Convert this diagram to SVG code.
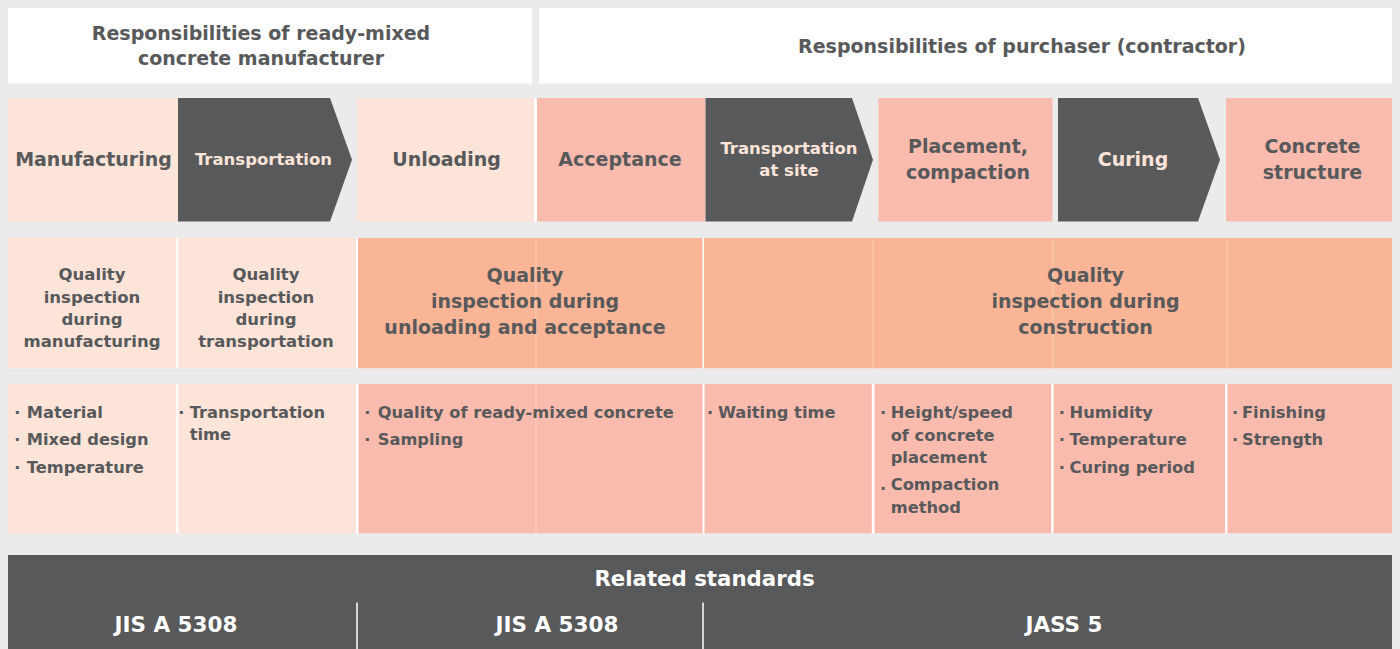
<svg xmlns="http://www.w3.org/2000/svg" width="1400" height="649" viewBox="0 0 1400 649">
<style>
.t{font-family:"DejaVu Sans","Liberation Sans",sans-serif;font-weight:bold;fill:#58595b;text-anchor:middle}
.h{font-size:19px}
.s{font-size:16.5px}
.q{font-size:16.5px}
.lt{fill:#fde4d9}
.wt{fill:#ffffff}
.b{font-family:"DejaVu Sans","Liberation Sans",sans-serif;font-weight:bold;fill:#58595b;font-size:16.3px}
.peach{fill:#fde4d9}
.salmon{fill:#f8bbad}
.orange{fill:#f9b596}
.dark{fill:#58595b}
.white{fill:#ffffff}
.faintO{stroke:#fbc6ad;stroke-width:1.5}
.faintS{stroke:#fbcabe;stroke-width:1.5}
.sep{stroke:#ffffff;stroke-width:1.5}
</style>
<rect x="0" y="0" width="1400" height="649" fill="#ebebeb"/>

<g id="header-manufacturer">
<rect class="white" x="8" y="8" width="524" height="75.5"/>
<text class="t h" x="261" y="40">Responsibilities of ready-mixed</text>
<text class="t h" x="261" y="64.5">concrete manufacturer</text>
</g>
<g id="header-purchaser">
<rect class="white" x="539" y="8" width="853" height="75.5"/>
<text class="t h" x="1022" y="53">Responsibilities of purchaser (contractor)</text>
</g>

<g id="stage-manufacturing">
<rect class="peach" x="8" y="98" width="170" height="123.5"/>
<text class="t h" x="93.5" y="166">Manufacturing</text>
</g>
<g id="stage-transportation">
<polygon class="dark" points="178,98 330,98 352,159.8 330,221.5 178,221.5"/>
<text class="t s lt" x="263.5" y="165">Transportation</text>
</g>
<g id="stage-unloading">
<rect class="peach" x="357" y="98" width="177" height="123.5"/>
<text class="t h" x="446.5" y="166">Unloading</text>
</g>
<g id="stage-acceptance">
<rect class="white" x="534" y="98" width="3" height="123.5"/>
<rect class="salmon" x="537" y="98" width="168" height="123.5"/>
<text class="t h" x="620" y="166">Acceptance</text>
</g>
<g id="stage-transportation-site">
<polygon class="dark" points="705.5,98 852,98 873,159.8 852,221.5 705.5,221.5"/>
<text class="t s lt" x="789" y="154">Transportation</text>
<text class="t s lt" x="789" y="175.5">at site</text>
</g>
<g id="stage-placement">
<rect class="salmon" x="878.5" y="98" width="174" height="123.5"/>
<text class="t h" x="968" y="153">Placement,</text>
<text class="t h" x="968" y="178.5">compaction</text>
</g>
<g id="stage-curing">
<polygon class="dark" points="1058,98 1198,98 1220,159.8 1198,221.5 1058,221.5"/>
<text class="t h lt" x="1133" y="166">Curing</text>
</g>
<g id="stage-structure">
<rect class="salmon" x="1226" y="98" width="166" height="123.5"/>
<text class="t h" x="1312.5" y="153">Concrete</text>
<text class="t h" x="1312.5" y="178.5">structure</text>
</g>

<rect class="white" x="8" y="238" width="1384" height="130.3"/>
<g id="qi-manufacturing">
<rect class="peach" x="8" y="238" width="168.3" height="130.3"/>
<text class="t q" x="92" y="280">Quality</text>
<text class="t q" x="92" y="302.5">inspection</text>
<text class="t q" x="92" y="325">during</text>
<text class="t q" x="92" y="347">manufacturing</text>
</g>
<g id="qi-transportation">
<rect class="peach" x="178.3" y="238" width="177.7" height="130.3"/>
<text class="t q" x="266" y="280">Quality</text>
<text class="t q" x="266" y="302.5">inspection</text>
<text class="t q" x="266" y="325">during</text>
<text class="t q" x="266" y="347">transportation</text>
</g>
<g id="qi-unloading-acceptance">
<rect class="orange" x="358" y="238" width="344.5" height="130.3"/>
<line class="faintO" x1="536" y1="238" x2="536" y2="368.3"/>
<text class="t h" x="525" y="281.5">Quality</text>
<text class="t h" x="525" y="307.5">inspection during</text>
<text class="t h" x="525" y="333.5">unloading and acceptance</text>
</g>
<g id="qi-construction">
<rect class="orange" x="704" y="238" width="688" height="130.3"/>
<line class="faintO" x1="873" y1="238" x2="873" y2="368.3"/>
<line class="faintO" x1="1052.7" y1="238" x2="1052.7" y2="368.3"/>
<line class="faintO" x1="1226.8" y1="238" x2="1226.8" y2="368.3"/>
<text class="t h" x="1085.5" y="281.5">Quality</text>
<text class="t h" x="1085.5" y="307.5">inspection during</text>
<text class="t h" x="1085.5" y="333.5">construction</text>
</g>

<rect class="white" x="8" y="384" width="1384" height="149.3"/>
<g id="items-manufacturing">
<rect class="peach" x="8" y="384" width="168.3" height="149.3"/>
<text class="b" x="14.3" y="417.5">·</text><text class="b" x="26.7" y="417.5">Material</text>
<text class="b" x="14.3" y="445">·</text><text class="b" x="26.7" y="445">Mixed design</text>
<text class="b" x="14.3" y="472.5">·</text><text class="b" x="26.7" y="472.5">Temperature</text>
</g>
<g id="items-transportation">
<rect class="peach" x="178.3" y="384" width="177.7" height="149.3"/>
<text class="b" x="178.2" y="417.5">·</text><text class="b" x="189.7" y="417.5">Transportation</text>
<text class="b" x="189.7" y="439.5">time</text>
</g>
<g id="items-unloading-acceptance">
<rect class="salmon" x="358.5" y="384" width="344" height="149.3"/>
<line class="faintS" x1="536" y1="384" x2="536" y2="533.3"/>
<text class="b" x="364.3" y="417.5">·</text><text class="b" x="377.7" y="417.5">Quality of ready-mixed concrete</text>
<text class="b" x="364.3" y="445">·</text><text class="b" x="377.7" y="445">Sampling</text>
</g>
<g id="items-site-transport">
<rect class="salmon" x="704.5" y="384" width="167.3" height="149.3"/>
<text class="b" x="707" y="417.5">·</text><text class="b" x="717.9" y="417.5">Waiting time</text>
</g>
<g id="items-placement">
<rect class="salmon" x="874.6" y="384" width="176.6" height="149.3"/>
<text class="b" x="879.9" y="417.5">·</text><text class="b" x="890.7" y="417.5">Height/speed</text>
<text class="b" x="890.7" y="440.5">of concrete</text>
<text class="b" x="890.7" y="462.5">placement</text>
<text class="b" x="879.9" y="490">.</text><text class="b" x="890.7" y="490">Compaction</text>
<text class="b" x="890.7" y="512.5">method</text>
</g>
<g id="items-curing">
<rect class="salmon" x="1053.6" y="384" width="171.4" height="149.3"/>
<text class="b" x="1058.8" y="417.5">·</text><text class="b" x="1069.6" y="417.5">Humidity</text>
<text class="b" x="1058.8" y="445">·</text><text class="b" x="1069.6" y="445">Temperature</text>
<text class="b" x="1058.8" y="472.5">·</text><text class="b" x="1069.6" y="472.5">Curing period</text>
</g>
<g id="items-structure">
<rect class="salmon" x="1227.5" y="384" width="164.5" height="149.3"/>
<text class="b" x="1232" y="417.5">·</text><text class="b" x="1242" y="417.5">Finishing</text>
<text class="b" x="1232" y="445">·</text><text class="b" x="1242" y="445">Strength</text>
</g>

<g id="related-standards">
<rect class="dark" x="8" y="555" width="1384" height="94"/>
<text class="t wt" style="font-size:21.3px" x="704.5" y="585.5">Related standards</text>
<line class="sep" x1="357" y1="602.5" x2="357" y2="649"/>
<line class="sep" x1="703" y1="602.5" x2="703" y2="649"/>
<text class="t wt" style="font-size:21.5px" x="176" y="631.5">JIS A 5308</text>
<text class="t wt" style="font-size:21.5px" x="557" y="631.5">JIS A 5308</text>
<text class="t wt" style="font-size:21.5px" x="1064" y="631.5">JASS 5</text>
</g>

<g id="connectors"/>
</svg>
